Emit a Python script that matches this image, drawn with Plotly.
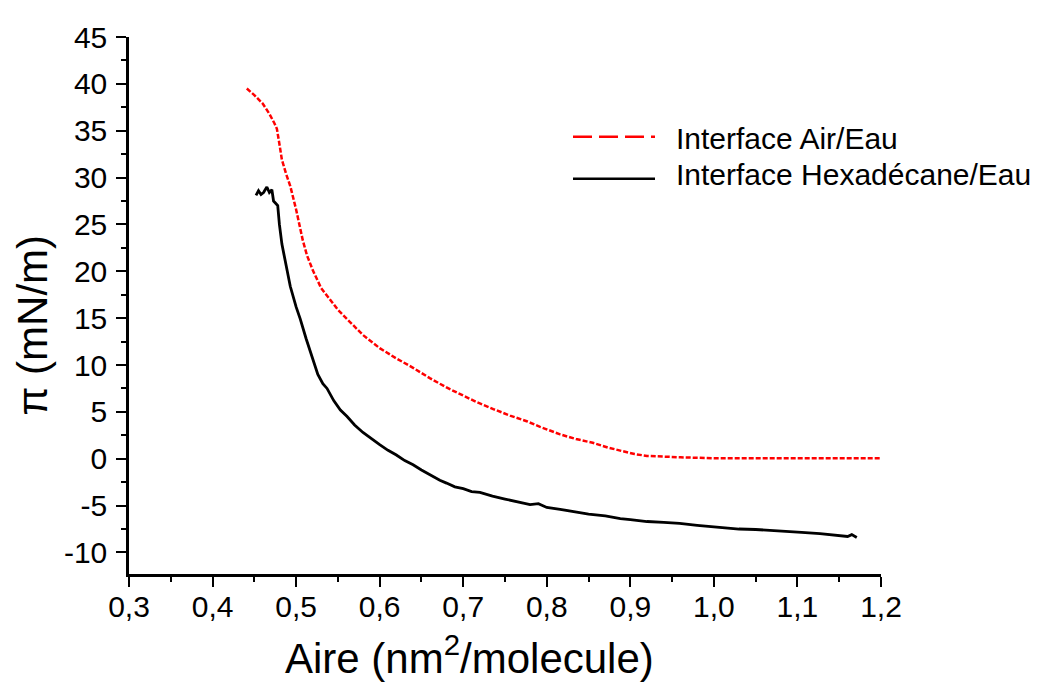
import plotly.graph_objects as go

# Interface Air/Eau (red dashed)
air_x = [0.441, 0.450, 0.460, 0.468, 0.474, 0.477, 0.480, 0.483, 0.488, 0.493,
         0.500, 0.505, 0.508, 0.513, 0.520, 0.530, 0.541, 0.550, 0.561, 0.580,
         0.600, 0.620, 0.640, 0.660, 0.680, 0.700, 0.716, 0.736, 0.756, 0.776,
         0.792, 0.816, 0.835, 0.855, 0.873, 0.891, 0.905, 0.920, 0.940, 0.960,
         0.980, 1.000, 1.050, 1.100, 1.150, 1.200]
air_y = [39.5, 38.8, 37.9, 36.8, 35.8, 35.2, 33.6, 31.9, 30.4, 29.1,
         26.6, 24.6, 23.3, 21.7, 20.1, 18.2, 17.0, 15.9, 14.9, 13.2,
         11.8, 10.7, 9.7, 8.6, 7.6, 6.7, 6.05, 5.3, 4.6, 4.0,
         3.4, 2.6, 2.1, 1.7, 1.2, 0.8, 0.5, 0.3, 0.2, 0.15,
         0.1, 0.05, 0.05, 0.05, 0.05, 0.05]

# Interface Hexadécane/Eau (black solid)
hex_x = [0.452, 0.455, 0.458, 0.461, 0.465, 0.468, 0.471, 0.473, 0.478, 0.480,
         0.483, 0.488, 0.493, 0.500, 0.505, 0.512, 0.520, 0.526, 0.532, 0.537,
         0.545, 0.553, 0.561, 0.570, 0.580, 0.590, 0.600, 0.610, 0.620, 0.630,
         0.640, 0.650, 0.660, 0.672, 0.680, 0.690, 0.700, 0.710, 0.720, 0.735,
         0.750, 0.768, 0.780, 0.790, 0.800, 0.816, 0.830, 0.850, 0.870, 0.888,
         0.900, 0.920, 0.940, 0.959, 0.980, 1.007, 1.030, 1.050, 1.070, 1.087,
         1.105, 1.127, 1.145, 1.160, 1.165, 1.171]
hex_y = [28.1, 28.6, 28.2, 28.4, 29.0, 28.4, 28.7, 27.5, 27.0, 25.0,
         22.9, 20.5, 18.4, 16.2, 14.9, 12.8, 10.75, 9.0, 8.0, 7.5,
         6.2, 5.2, 4.5, 3.6, 2.8, 2.1, 1.5, 0.9, 0.4, -0.2,
         -0.65, -1.2, -1.7, -2.3, -2.6, -3.0, -3.2, -3.5, -3.6, -4.0,
         -4.3, -4.7, -4.9, -4.8, -5.2, -5.4, -5.6, -5.9, -6.1, -6.4,
         -6.5, -6.7, -6.8, -6.9, -7.1, -7.35, -7.5, -7.55, -7.65, -7.7,
         -7.85, -8.0, -8.2, -8.3, -8.1, -8.4]

y_tickvals = [-10, -5, 0, 5, 10, 15, 20, 25, 30, 35, 40, 45]
y_ticktext = ["-10", "-5", "0", "5", "10", "15", "20", "25", "30", "35", "40", "45"]

series_names = ["Interface Air/Eau", "Interface Hexadécane/Eau"]
x_title = "Aire (nm<sup>2</sup>/molecule)"
y_title = "π (mN/m)"

FONT = "Arial, Liberation Sans, sans-serif"

# page is offset by the 8px body margin
OFF = 8
W, H = 1046 - 2 * OFF, 691 - 2 * OFF
L, R, T, B = 129 - OFF, 881 - OFF, 25 - OFF, 574 - OFF


def px(xp):
    return (xp - OFF - L) / (R - L)


def py(yp):
    return (B - (yp - OFF)) / (B - T)


fig = go.Figure()
fig.add_trace(go.Scatter(x=air_x, y=air_y, mode="lines", name=series_names[0],
                         line=dict(color="#ff0000", width=2.5, dash="5px,2px")))
fig.add_trace(go.Scatter(x=hex_x, y=hex_y, mode="lines", name=series_names[1],
                         line=dict(color="#000000", width=2.8)))

axis_common = dict(
    showline=True, linecolor="black", linewidth=2.5,
    ticks="outside", ticklen=10, tickwidth=2, tickcolor="black",
    showgrid=False, zeroline=False,
    tickfont=dict(family=FONT, size=30, color="black"),
)

fig.update_xaxes(range=[0.3, 1.2], dtick=0.1, tick0=0.3, tickformat=".1f",
                 minor=dict(ticks="outside", ticklen=5, tickwidth=2, dtick=0.05,
                            tickcolor="black"),
                 ticklabelstandoff=-6,
                 **axis_common)
fig.update_yaxes(range=[-12.3, 45], tickvals=y_tickvals, ticktext=y_ticktext,
                 minor=dict(ticks="outside", ticklen=5, tickwidth=2, dtick=2.5,
                            tickcolor="black"),
                 ticklabelstandoff=3,
                 **axis_common)

# legend drawn manually
shapes = [
    dict(type="line", xref="paper", yref="paper", x0=px(573), x1=px(655),
         y0=py(127), y1=py(127),
         line=dict(color="#ff0000", width=2.5, dash="19px,7px")),
    dict(type="line", xref="paper", yref="paper", x0=px(573), x1=px(655),
         y0=py(170), y1=py(170), line=dict(color="black", width=2.5)),
]
annotations = [
    dict(text=series_names[0], xref="paper", yref="paper", x=px(674), y=py(129),
         xanchor="left", yanchor="middle", showarrow=False,
         font=dict(family=FONT, size=30, color="black")),
    dict(text=series_names[1], xref="paper", yref="paper", x=px(674), y=py(166),
         xanchor="left", yanchor="middle", showarrow=False,
         font=dict(family=FONT, size=30, color="black")),
    dict(text=x_title, xref="paper", yref="paper", x=px(469), y=py(657),
         xanchor="center", yanchor="middle", showarrow=False,
         font=dict(family=FONT, size=42, color="black")),
    dict(text=y_title, xref="paper", yref="paper", x=px(33), y=py(320),
         xanchor="center", yanchor="middle", showarrow=False, textangle=-90,
         font=dict(family=FONT, size=42, color="black")),
]

fig.update_layout(
    width=W, height=H,
    margin=dict(l=L, r=W - R, t=T, b=H - B),
    paper_bgcolor="white", plot_bgcolor="white",
    separators=", ",
    showlegend=False,
    shapes=shapes, annotations=annotations,
    font=dict(family=FONT, color="black"),
)

fig.write_html("out.html")
